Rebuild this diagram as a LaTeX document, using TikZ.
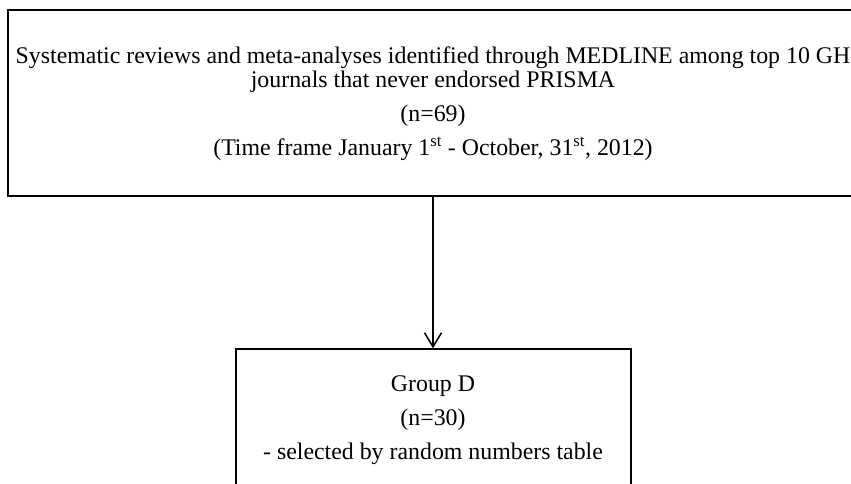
\documentclass[tikz,border=0pt]{standalone}
\usepackage{fontspec}
\setmainfont{Liberation Serif}
\usetikzlibrary{arrows.meta}
\tikzset{
  boxa/.style={draw, line width=1.8pt, rectangle, inner sep=0pt},
  boxb/.style={draw, line width=1.5pt, rectangle, inner sep=0pt},
  txt/.style={inner sep=0pt, font=\fontsize{23.85}{28}\selectfont, anchor=base},
  arr/.style={line width=1.5pt, -{Straight Barb[length=14pt,width=17pt,line width=1.5pt]}}
}
\begin{document}
\begin{tikzpicture}[x=1pt,y=-1pt]
\useasboundingbox (0,0) rectangle (851,484);
\clip (0,0) rectangle (851,484);
\node[boxa, minimum width=850pt, minimum height=186pt] (top) at (433,103) {};
\node[boxb, minimum width=395pt, minimum height=200pt] (bot) at (433.5,449) {};
\node[txt] (t1) at (433,63.3) {Systematic reviews and meta-analyses identified through MEDLINE among top 10 GH};
\node[txt] (t2) at (433,87.3) {journals that never endorsed PRISMA};
\node[txt] (t3) at (433,121.7) {(n=69)};
\node[txt] (t4) at (433,156) {(Time frame January 1\textsuperscript{st} - October, 31\textsuperscript{st}, 2012)};
\node[txt] (b1) at (433,391.7) {Group D};
\node[txt] (b2) at (433,425) {(n=30)};
\node[txt] (b3) at (433,459) {- selected by random numbers table};
\draw[arr] (top.south -| t3) -- (bot.north -| t3);
\end{tikzpicture}
\end{document}
